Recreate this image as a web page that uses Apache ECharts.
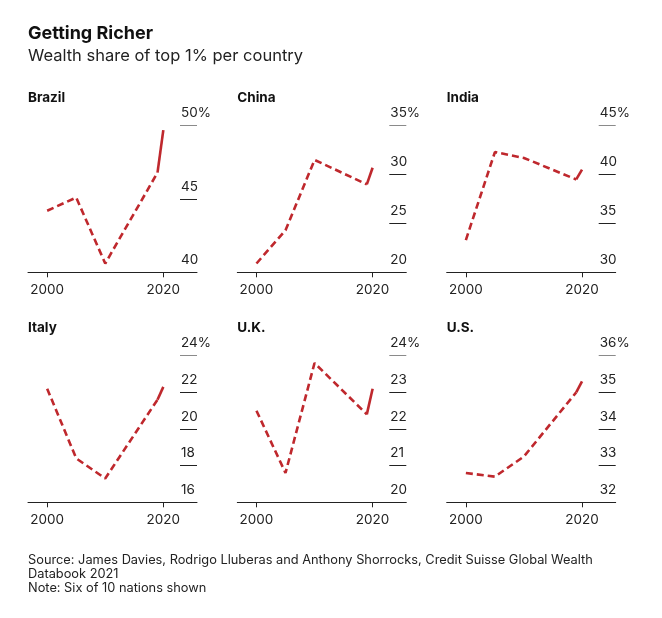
<!DOCTYPE html>
<html>
<head>
<meta charset="utf-8">
<script src="https://cdn.jsdelivr.net/npm/echarts@6/dist/echarts.min.js"></script>
<style>
html,body{margin:0;padding:0;background:#fff;}
#chart{width:662px;height:618px;}
</style>
</head>
<body>
<div id="chart"></div>
<script>
// ---- data ----
const years = [2000, 2005, 2010, 2019, 2020];
const xTickYears = [2000, 2020];
const countries = ['Brazil', 'China', 'India', 'Italy', 'U.K.', 'U.S.'];
const brazil = [44.2, 45.1, 40.6, 46.8, 49.7];
const china  = [20.9, 24.3, 31.5, 29.0, 30.7];
const india  = [33.3, 42.3, 41.7, 39.5, 40.5];
const italy  = [22.2, 18.4, 17.3, 21.6, 22.3];
const uk     = [22.5, 20.8, 23.8, 22.4, 23.1];
const us     = [32.8, 32.7, 33.25, 35.0, 35.3];
const brazilTicks = [40, 45, 50];
const chinaTicks  = [20, 25, 30, 35];
const indiaTicks  = [30, 35, 40, 45];
const italyTicks  = [16, 18, 20, 22, 24];
const ukTicks     = [20, 21, 22, 23, 24];
const usTicks     = [32, 33, 34, 35, 36];

const values = [brazil, china, india, italy, uk, us];
const ticks = [brazilTicks, chinaTicks, indiaTicks, italyTicks, ukTicks, usTicks];

// ---- layout ----
const FONT = 'Inter, "Liberation Sans", sans-serif';
const TXT = '#222';
const RED = '#bf282d';
const colLeft = [28, 237.3, 446.7];
const rowTop = [125.7, 355.7];
const gridW = 169, gridH = 146.6;

const grids = [], xAxes = [], yAxes = [], series = [], graphics = [];

countries.forEach((name, i) => {
  const c = i % 3, r = Math.floor(i / 3);
  const t = ticks[i];
  const ymin = t[0], ymax = t[t.length - 1];
  grids.push({left: colLeft[c], top: rowTop[r], width: gridW, height: gridH});
  xAxes.push({
    type: 'value', gridIndex: i, min: 1996.7, max: 2025.8,
    splitLine: {show: false},
    axisLine: {show: true, lineStyle: {color: TXT, width: 1}},
    axisTick: {show: true, length: 5, customValues: xTickYears, lineStyle: {color: TXT}},
    axisLabel: {customValues: xTickYears, margin: 11, fontSize: 13.5, color: TXT, fontFamily: FONT,
      formatter: v => '' + v}
  });
  yAxes.push({
    type: 'value', gridIndex: i, position: 'right', min: ymin, max: ymax,
    splitLine: {show: false},
    axisLine: {show: false},
    axisTick: {show: true, inside: true, length: 17, customValues: t.slice(1, -1), lineStyle: {color: TXT}},
    axisLabel: {
      customValues: t, inside: true, align: 'left', margin: 16,
      verticalAlign: 'bottom', lineHeight: 15, padding: [0, 0, 5, 0],
      fontSize: 13.5, color: TXT, fontFamily: FONT,
      formatter: v => (v === ymax ? v + '%' : '' + v)
    }
  });
  yAxes.push({
    type: 'value', gridIndex: i, position: 'right', min: ymin, max: ymax,
    splitLine: {show: false}, axisLine: {show: false}, axisLabel: {show: false},
    axisTick: {show: true, inside: true, length: 17, customValues: [ymax], lineStyle: {color: '#8a8a8a'}}
  });
  const v = values[i];
  const pts = years.map((y, k) => [y, v[k]]);
  series.push({
    type: 'line', xAxisIndex: i, yAxisIndex: 2 * i, data: pts.slice(0, 4),
    symbol: 'none', silent: true,
    lineStyle: {color: RED, width: 2.6, type: [7, 4]}
  });
  series.push({
    type: 'line', xAxisIndex: i, yAxisIndex: 2 * i, data: pts.slice(3),
    symbol: 'none', silent: true,
    lineStyle: {color: RED, width: 2.6, type: 'solid'}
  });
  graphics.push({
    type: 'text', left: colLeft[c], top: (r === 0 ? 91 : 321),
    style: {text: name, font: 'bold 13.5px ' + FONT, fill: '#111'}
  });
});

graphics.push({type: 'text', left: 28, top: 25,
  style: {text: 'Getting Richer', font: 'bold 18px ' + FONT, fill: '#111'}});
graphics.push({type: 'text', left: 28, top: 48,
  style: {text: 'Wealth share of top 1% per country', font: '16.5px ' + FONT, fill: '#222'}});
graphics.push({type: 'text', left: 28, top: 553,
  style: {text: 'Source: James Davies, Rodrigo Lluberas and Anthony Shorrocks, Credit Suisse Global Wealth\nDatabook 2021\nNote: Six of 10 nations shown',
    font: '12.8px ' + FONT, fill: '#222', lineHeight: 14}});

const chart = echarts.init(document.getElementById('chart'), null, {renderer: 'canvas'});
chart.setOption({
  animation: false,
  backgroundColor: '#fff',
  grid: grids, xAxis: xAxes, yAxis: yAxes, series: series,
  graphic: graphics
});
</script>
</body>
</html>
